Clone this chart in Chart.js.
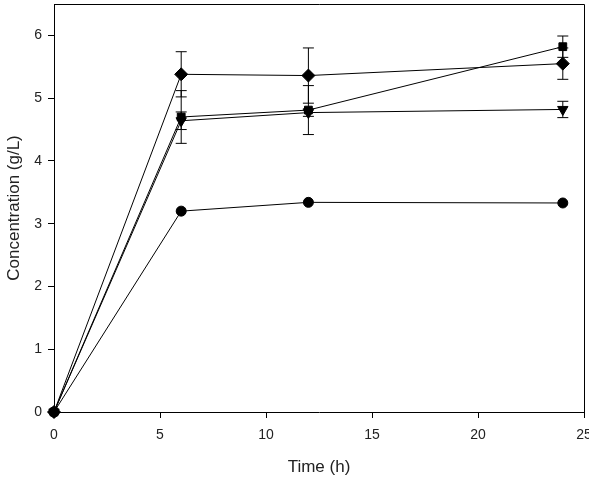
<!DOCTYPE html>
<html>
<head>
<meta charset="UTF-8">
<title>Concentration vs time</title>
<script src="https://cdn.jsdelivr.net/npm/chart.js"></script>
<style>
  body { margin: 0; background: #fff; }
  #wrap { width: 589px; height: 491px; }
</style>
</head>
<body>
<div id="wrap"><canvas id="chart" width="589" height="491"></canvas></div>
<script>
const times = [0, 6, 12, 24];
const diamondVals = [0, 5.38, 5.36, 5.55];
const diamondErr = [0, 0.36, 0.44, 0.25];
const squareVals = [0, 4.70, 4.81, 5.82];
const squareErr = [0, 0.42, 0.39, 0.17];
const triangleVals = [0, 4.64, 4.77, 4.82];
const triangleErr = [0, 0.14, 0.06, 0.13];
const circleVals = [0, 3.20, 3.34, 3.33];
const circleErr = [0, 0, 0, 0];

const xTicks = [0, 5, 10, 15, 20, 25];
const yTicks = [0, 1, 2, 3, 4, 5, 6];

function pts(vals) {
  return times.map((t, i) => ({ x: t, y: vals[i] }));
}

function series(vals, err, style, radius, rot) {
  return {
    data: pts(vals),
    err: err,
    showLine: true,
    borderColor: '#000',
    borderWidth: 1,
    backgroundColor: '#000',
    pointBackgroundColor: '#000',
    pointBorderColor: '#000',
    pointStyle: style,
    pointRadius: radius,
    pointRotation: rot || 0
  };
}

const noPad = () => ({ left: 0, top: 0, right: 0, bottom: 0 });

// error bars + frame on top/right
const errorBars = {
  id: 'errorBars',
  beforeDatasetsDraw(chart) {
    const ctx = chart.ctx;
    const xs = chart.scales.x, ys = chart.scales.y;
    ctx.save();
    ctx.strokeStyle = '#000';
    ctx.lineWidth = 1;
    chart.data.datasets.forEach(ds => {
      ds.data.forEach((p, i) => {
        const e = ds.err[i];
        if (!e) return;
        const px = xs.getPixelForValue(p.x);
        const top = ys.getPixelForValue(p.y + e);
        const bot = ys.getPixelForValue(p.y - e);
        ctx.beginPath();
        ctx.moveTo(px, top); ctx.lineTo(px, bot);
        ctx.moveTo(px - 5.5, top); ctx.lineTo(px + 5.5, top);
        ctx.moveTo(px - 5.5, bot); ctx.lineTo(px + 5.5, bot);
        ctx.stroke();
      });
    });
    ctx.restore();
  },
  afterDraw(chart) {
    const a = chart.chartArea, ctx = chart.ctx;
    ctx.save();
    ctx.strokeStyle = '#000';
    ctx.lineWidth = 1;
    ctx.beginPath();
    ctx.moveTo(a.left, a.top + 0.5);
    ctx.lineTo(a.right + 0.5, a.top + 0.5);
    ctx.lineTo(a.right + 0.5, a.bottom);
    ctx.stroke();
    ctx.restore();
  }
};

const tickFont = { family: 'Liberation Sans', size: 14 };
const titleFont = { family: 'Liberation Sans', size: 17 };

new Chart(document.getElementById('chart'), {
  type: 'scatter',
  data: {
    datasets: [
      series(circleVals, circleErr, 'circle', 5),
      series(triangleVals, triangleErr, 'triangle', 6, 180),
      series(squareVals, squareErr, 'rect', 5.5),
      series(diamondVals, diamondErr, 'rectRot', 6.5)
    ]
  },
  options: {
    responsive: false,
    animation: false,
    clip: false,
    layout: { autoPadding: false, padding: { top: 4, right: 5, left: 0, bottom: 0 } },
    plugins: { legend: { display: false }, tooltip: { enabled: false } },
    scales: {
      x: {
        type: 'linear',
        min: 0, max: 25,
        afterBuildTicks: s => { s.ticks = xTicks.map(v => ({ value: v })); },
        afterFit: s => { s.height = 79; s.paddingRight = 0; s.paddingLeft = 0; s.getPadding = noPad; },
        border: { display: true, color: '#000', width: 1 },
        grid: { display: true, drawOnChartArea: false, drawTicks: true, tickLength: 6, color: '#000' },
        ticks: { color: '#222', font: tickFont, padding: 9, maxRotation: 0 },
        title: { display: true, text: 'Time (h)', color: '#222', font: titleFont, padding: { top: 4, bottom: 13 } }
      },
      y: {
        type: 'linear',
        min: 0, max: 6.5,
        afterBuildTicks: s => { s.ticks = yTicks.map(v => ({ value: v })); },
        afterFit: s => { s.width = 54; s.paddingTop = 0; s.paddingBottom = 0; s.getPadding = noPad; },
        border: { display: true, color: '#000', width: 1 },
        grid: { display: true, drawOnChartArea: false, drawTicks: true, tickLength: 6, color: '#000' },
        ticks: { color: '#222', font: tickFont, padding: 6 },
        title: { display: true, text: 'Concentration (g/L)', color: '#222', font: titleFont, padding: { bottom: 4 } }
      }
    }
  },
  plugins: [errorBars]
});
</script>
</body>
</html>
